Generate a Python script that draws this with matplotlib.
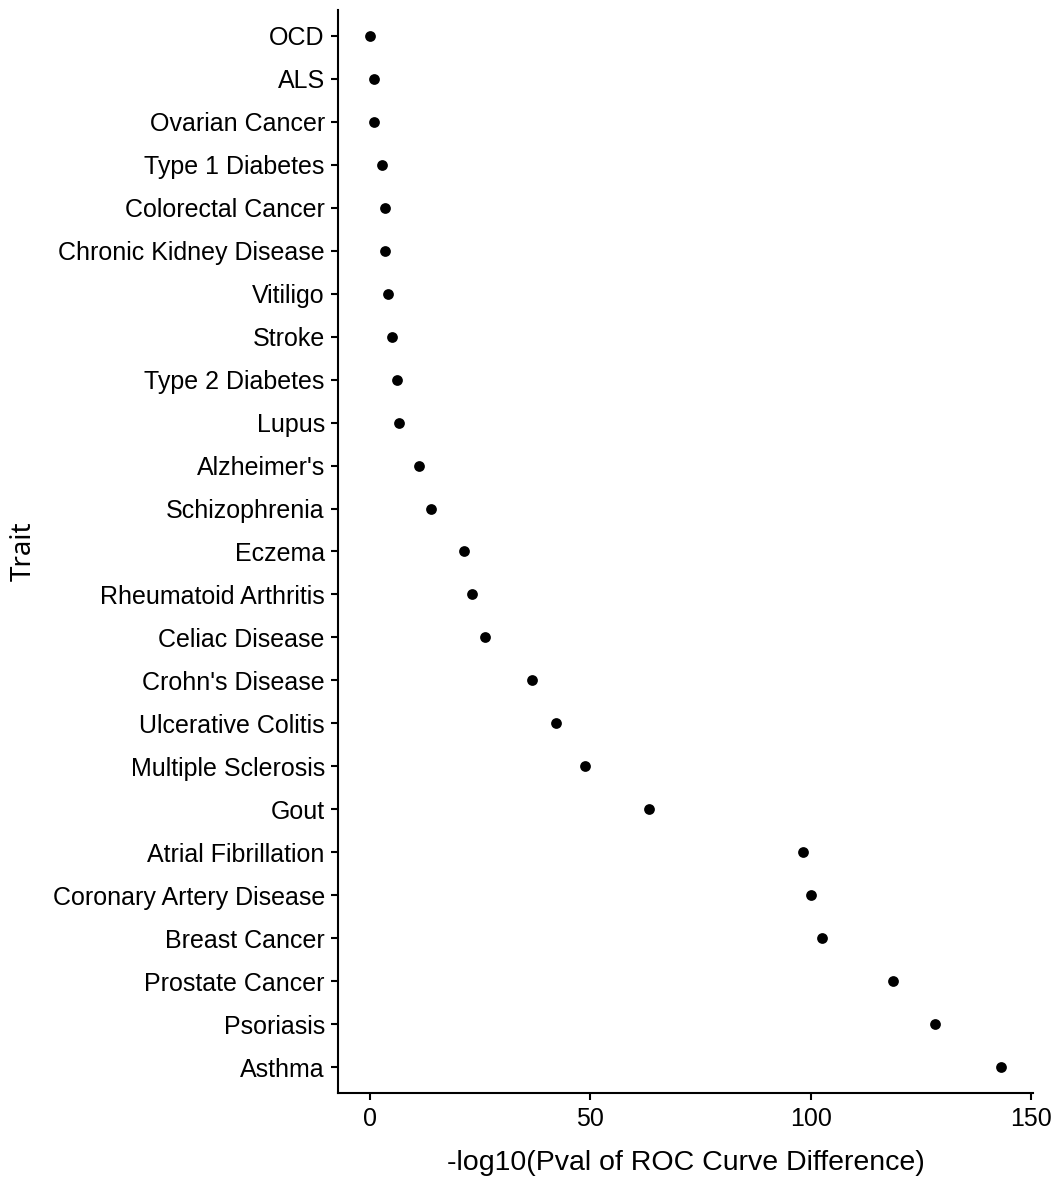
import numpy as np
import matplotlib.pyplot as plt

# traits, top to bottom, and -log10 p-values of the ROC curve difference
traits = ["OCD", "ALS", "Ovarian Cancer", "Type 1 Diabetes", "Colorectal Cancer",
          "Chronic Kidney Disease", "Vitiligo", "Stroke", "Type 2 Diabetes", "Lupus",
          "Alzheimer's", "Schizophrenia", "Eczema", "Rheumatoid Arthritis",
          "Celiac Disease", "Crohn's Disease", "Ulcerative Colitis",
          "Multiple Sclerosis", "Gout", "Atrial Fibrillation",
          "Coronary Artery Disease", "Breast Cancer", "Prostate Cancer",
          "Psoriasis", "Asthma"]
neglog_p = [0.0, 0.9, 0.9, 2.7, 3.6, 3.6, 4.1, 5.0, 6.3, 6.6, 11.3, 14.0, 21.5,
            23.1, 26.2, 36.7, 42.3, 48.9, 63.3, 98.2, 100.0, 102.5, 118.6,
            128.1, 143.2]
xticks = [0, 50, 100, 150]

plt.rcParams['font.family'] = ['Liberation Sans', 'DejaVu Sans']

fig = plt.figure(figsize=(10.57, 11.8), dpi=100)
ax = fig.add_axes([338 / 1057, 1 - 1093 / 1180, (1033 - 338) / 1057, (1093 - 10) / 1180])

ypos = np.arange(len(traits))
ax.scatter(neglog_p, ypos, s=60, color='black', linewidths=0, zorder=3)

span = max(neglog_p) - min(neglog_p)
ax.set_xlim(min(neglog_p) - 0.05 * span, max(neglog_p) + 0.05 * span)
ax.set_ylim(len(traits) - 1 + 0.6, -0.6)

ax.set_yticks(ypos)
ax.set_yticklabels(traits)
ax.set_xticks(xticks)
ax.set_xticklabels([str(t) for t in xticks])

for side in ['top', 'right']:
    ax.spines[side].set_visible(False)
for side in ['left', 'bottom']:
    ax.spines[side].set_linewidth(1.5)
ax.tick_params(axis='both', length=5, width=1.5, labelsize=18, colors='black')
ax.tick_params(axis='y', pad=4.5)
ax.tick_params(axis='x', pad=5)

ax.set_xlabel('-log10(Pval of ROC Curve Difference)', fontsize=20.5, labelpad=14)
ax.set_ylabel('Trait', fontsize=20, family=['Noto Sans', 'DejaVu Sans'], labelpad=11)

fig.savefig('out.png', dpi=100)
